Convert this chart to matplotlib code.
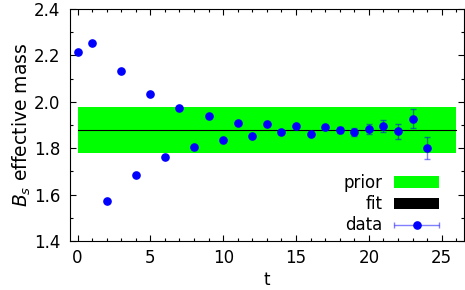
import numpy as np
import matplotlib
matplotlib.use("Agg")
import matplotlib.pyplot as plt
from matplotlib.patches import Patch
from matplotlib.container import ErrorbarContainer
from matplotlib.legend_handler import HandlerErrorbar
from matplotlib.ticker import MultipleLocator, FormatStrFormatter

plt.rcParams['font.family'] = ['DejaVu Sans']
plt.rcParams['mathtext.fontset'] = 'dejavusans'

t = list(range(25))
meff = [2.213, 2.253, 1.572, 2.133, 1.684, 2.035, 1.761, 1.975, 1.807, 1.937,
        1.835, 1.910, 1.853, 1.903, 1.868, 1.894, 1.860, 1.893, 1.878, 1.870,
        1.883, 1.897, 1.873, 1.927, 1.801]
err = [0.001, 0.001, 0.001, 0.001, 0.001, 0.002, 0.002, 0.002, 0.002, 0.003,
       0.003, 0.003, 0.004, 0.004, 0.005, 0.005, 0.006, 0.008, 0.012, 0.016,
       0.022, 0.026, 0.033, 0.041, 0.049]
prior_mean = 1.879
prior_sdev = 0.098
fit_mean = 1.877
band_t = [0, 26]

FS = 12

fig = plt.figure(figsize=(4.65, 2.9), dpi=100)
ax = fig.add_axes([0.151, 0.169, 0.846, 0.800])

ax.fill_between(band_t, prior_mean - prior_sdev, prior_mean + prior_sdev,
                color='#00ff00', linewidth=0, zorder=1)
ax.plot(band_t, [fit_mean, fit_mean], color='black', linewidth=0.8, zorder=2)
ax.errorbar(t, meff, yerr=err, fmt='o', color='blue', markersize=5.2,
            ecolor=(0.0, 0.0, 1.0, 0.5), elinewidth=1.0, capsize=2.5,
            capthick=1.0, zorder=3)

ax.set_xlim(-0.5, 26.5)
ax.set_ylim(1.4, 2.4)
ax.xaxis.set_major_locator(MultipleLocator(5))
ax.xaxis.set_minor_locator(MultipleLocator(1))
ax.yaxis.set_major_locator(MultipleLocator(0.2))
ax.yaxis.set_minor_locator(MultipleLocator(0.1))
ax.yaxis.set_major_formatter(FormatStrFormatter('%.1f'))
ax.tick_params(which='both', direction='in', top=True, right=True,
               labelsize=FS, width=0.8)
ax.tick_params(which='major', length=4.5)
ax.tick_params(which='minor', length=2.5)
ax.tick_params(axis='y', which='major', pad=7)
ax.tick_params(axis='x', which='major', pad=6)
for s in ax.spines.values():
    s.set_linewidth(0.8)

ax.set_xlabel('t', fontsize=FS, labelpad=2.5)
ax.set_ylabel('$B_s$ effective mass', fontsize=13.5, labelpad=1)

# legend handles
prior_h = Patch(facecolor='#00ff00', edgecolor='none')
fit_h = Patch(facecolor='black', edgecolor='none')
dummy = ax.errorbar([np.nan], [np.nan], xerr=[1.0], fmt='o', color='blue',
                    markersize=5.2, ecolor=(0.0, 0.0, 1.0, 0.5),
                    elinewidth=1.0, capsize=2.5, capthick=1.0)
leg = ax.legend([prior_h, fit_h, dummy], ['prior', 'fit', 'data'],
                loc='lower right', bbox_to_anchor=(0.938, 0.028),
                frameon=False, markerfirst=False, fontsize=FS,
                handlelength=2.7, handleheight=0.65, handletextpad=0.7,
                labelspacing=0.2, borderpad=0, borderaxespad=0,
                handler_map={ErrorbarContainer: HandlerErrorbar(xerr_size=1.35, numpoints=1)})

fig.savefig('out.png', dpi=100)
